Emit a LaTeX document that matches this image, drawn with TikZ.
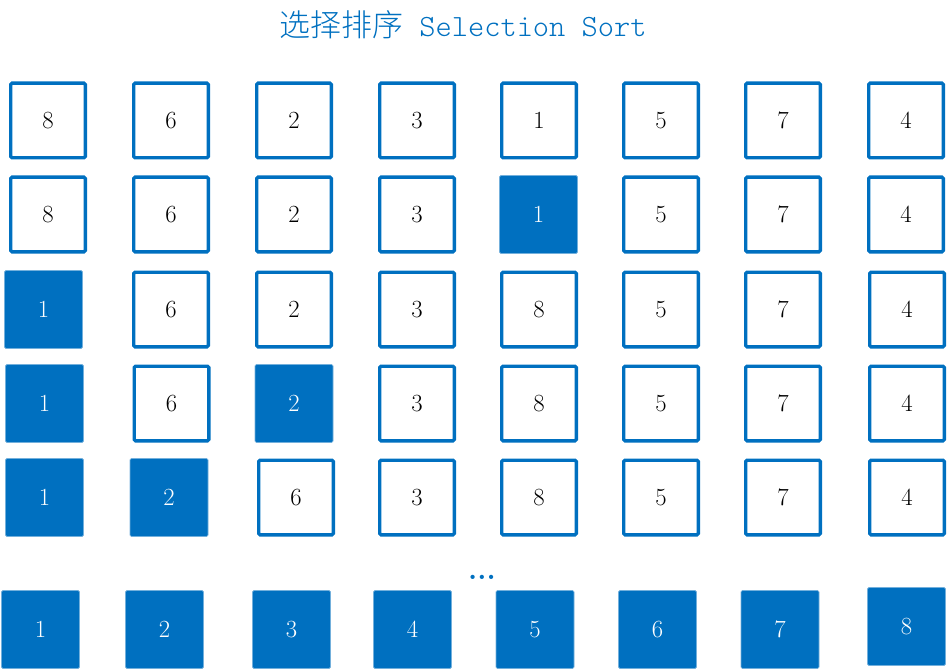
\documentclass[tikz,border=0pt]{standalone}
\usepackage{fontspec}
\newfontfamily\cjkfont{Noto Sans CJK SC}[UprightFont=* Light]
\newfontfamily\lightmono{Latin Modern Mono Light}
\usetikzlibrary{positioning}
\definecolor{sortblue}{RGB}{0,112,192}
\newcommand{\digitfont}{\fontsize{18.5}{20}\selectfont}

\begin{document}
\begin{tikzpicture}[x=0.75pt, y=-0.75pt,
		cell/.style={draw=sortblue, line width=2.5pt, minimum size=56pt, inner sep=0pt, rounded corners=1pt, font=\digitfont},
		done/.style={fill=sortblue, draw=sortblue!55, line width=0.5pt, minimum size=58.5pt, inner sep=0pt, rounded corners=1pt, text=white, font=\digitfont}]
			\useasboundingbox (0,0) rectangle (948,670);

			\node[text=sortblue, font=\fontsize{23.2}{25}\selectfont] (title) at (463,25) {{\cjkfont 选择排序}{\lightmono{} Selection Sort}};

			% start
			\foreach \x/\v/\s [count=\i] in {48/8/cell, 171/6/cell, 294/2/cell, 417/3/cell, 539/1/cell, 661/5/cell, 783/7/cell, 906/4/cell}
				\node[\s] (r1-\i) at (\x,120.5) {\v};
			% pick the smallest
			\foreach \x/\v/\s [count=\i] in {48/8/cell, 171/6/cell, 294/2/cell, 417/3/cell, 538.5/1/done, 661/5/cell, 783/7/cell, 906/4/cell}
				\node[\s] (r2-\i) at (\x,214.5) {\v};
			\foreach \x/\v/\s [count=\i] in {43.5/1/done, 171/6/cell, 294/2/cell, 417/3/cell, 539/8/cell, 661/5/cell, 783/7/cell, 907/4/cell}
				\node[\s] (r3-\i) at (\x,309.5) {\v};
			\foreach \x/\v/\s [count=\i] in {44.5/1/done, 171.5/6/cell, 294/2/done, 417/3/cell, 539/8/cell, 661/5/cell, 783/7/cell, 907/4/cell}
				\node[\s] (r4-\i) at (\x,403.5) {\v};
			\foreach \x/\v/\s [count=\i] in {44.5/1/done, 169/2/done, 296/6/cell, 417/3/cell, 539/8/cell, 661/5/cell, 783/7/cell, 907/4/cell}
				\node[\s] (r5-\i) at (\x,497.5) {\v};

			\node[text=sortblue, font=\fontsize{22}{22}\selectfont\bfseries, anchor=base, inner sep=0pt] (dots) at (482,579.5) {...};

			% sorted
			\foreach \x/\v [count=\i] in {40.5/1, 164.5/2, 291.5/3, 412.5/4, 535/5, 657.5/6, 780/7}
				\node[done] (r6-\i) at (\x,629.5) {\v};
			\node[done] (r6-8) at (906.5,626.5) {8};
		\end{tikzpicture}
\end{document}
